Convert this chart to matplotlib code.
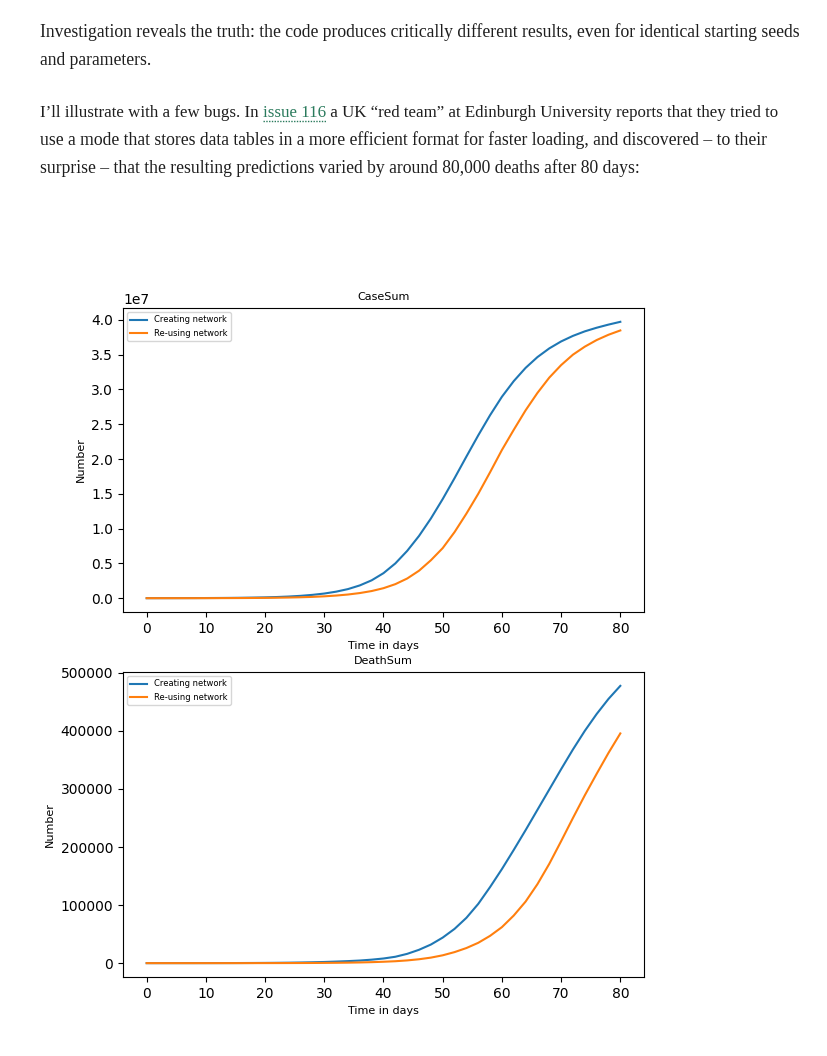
import matplotlib
matplotlib.use('Agg')
import matplotlib.pyplot as plt
import numpy as np

W, H = 828, 1056

# Datos (cada 2 días)
dias = list(range(0, 81, 2))

# CaseSum, en unidades de 1e7
casos_creando = [0.0004, 0.0006, 0.0008, 0.0012, 0.0016, 0.0023, 0.0032, 0.0044, 0.0062, 0.0087,
                 0.012, 0.017, 0.024, 0.034, 0.048, 0.067, 0.094, 0.131, 0.184, 0.257,
                 0.36, 0.50, 0.68, 0.895, 1.145, 1.425, 1.725, 2.035, 2.34, 2.63,
                 2.895, 3.12, 3.31, 3.465, 3.59, 3.69, 3.77, 3.835, 3.887, 3.932, 3.972]
casos_reusando = [0.0003, 0.0003, 0.0004, 0.0005, 0.0006, 0.0009, 0.0012, 0.0017, 0.0024, 0.0034,
                  0.0048, 0.0068, 0.0096, 0.0135, 0.019, 0.027, 0.038, 0.053, 0.074, 0.103,
                  0.144, 0.202, 0.283, 0.395, 0.545, 0.72, 0.95, 1.215, 1.50, 1.81,
                  2.13, 2.42, 2.70, 2.95, 3.17, 3.35, 3.50, 3.615, 3.71, 3.786, 3.848]

# DeathSum, en unidades de 1e5
muertes_creando = [0.0001, 0.0001, 0.0002, 0.0003, 0.0004, 0.0006, 0.0009, 0.0013, 0.0019, 0.0028,
                   0.004, 0.0057, 0.008, 0.011, 0.015, 0.02, 0.027, 0.035, 0.045, 0.06,
                   0.08, 0.11, 0.16, 0.23, 0.32, 0.44, 0.59, 0.78, 1.02, 1.31,
                   1.62, 1.95, 2.29, 2.64, 2.99, 3.34, 3.68, 4.00, 4.29, 4.55, 4.775]
muertes_reusando = [0.0001, 0.0001, 0.0001, 0.0001, 0.0001, 0.0002, 0.0002, 0.0003, 0.0004, 0.0006,
                    0.0008, 0.0011, 0.0016, 0.0022, 0.003, 0.0043, 0.006, 0.0085, 0.012, 0.017,
                    0.024, 0.033, 0.047, 0.067, 0.095, 0.135, 0.19, 0.26, 0.35, 0.47,
                    0.62, 0.82, 1.06, 1.36, 1.71, 2.10, 2.50, 2.89, 3.26, 3.62, 3.956]

etiquetas = ['Creating network', 'Re-using network']

parrafo1 = ['Investigation reveals the truth: the code produces critically different results, even for identical starting seeds',
            'and parameters.']
parrafo2_a = 'I\u2019ll illustrate with a few bugs. In '
enlace = 'issue 116'
parrafo2_b = ' a UK \u201cred team\u201d at Edinburgh University reports that they tried to'
parrafo2_resto = ['use a mode that stores data tables in a more efficient format for faster loading, and discovered \u2013 to their',
                  'surprise \u2013 that the resulting predictions varied by around 80,000 deaths after 80 days:']

fig = plt.figure(figsize=(W / 100, H / 100), dpi=100)
fig.patch.set_facecolor('white')
renderer = fig.canvas.get_renderer()

color_texto = '#1e1e1e'
color_enlace = '#2a7a5c'
fuente = 'Liberation Serif'

# ajustar tamaño de letra para que la primera línea mida ~762 px
prueba = fig.text(0, 0, parrafo1[0], fontsize=12, family=fuente)
ancho = prueba.get_window_extent(renderer).width
prueba.remove()
tam = 12 * 762 / ancho


def poner(x, y, s, color=color_texto, size=None):
    t = fig.text(x / W, 1 - y / H, s, fontsize=size or tam, family=fuente, color=color,
                 ha='left', va='baseline')
    return x + t.get_window_extent(renderer).width


poner(40, 37, parrafo1[0])
poner(40, 65, parrafo1[1])

# la tercera línea es algo más corta en el original
tam3 = tam * 0.955
x = poner(40, 117, parrafo2_a, size=tam3)
x_fin = poner(x, 117, enlace, color=color_enlace, size=tam3)
fig.add_artist(plt.Line2D([x / W, x_fin / W], [1 - 121 / H, 1 - 121 / H],
                          color=color_enlace, linestyle=(0, (1, 1)), linewidth=1))
poner(x_fin, 117, parrafo2_b, size=tam3)
poner(40, 145, parrafo2_resto[0])
poner(40, 173, parrafo2_resto[1])


# Gráficos
def eje(top, bottom):
    return fig.add_axes([123 / W, 1 - bottom / H, (644 - 123) / W, (bottom - top) / H])


ax1 = eje(308, 612)
ax1.plot(dias, np.array(casos_creando) * 1e7, label=etiquetas[0])
ax1.plot(dias, np.array(casos_reusando) * 1e7, label=etiquetas[1])
ax1.set_title('CaseSum', fontsize=8)
ax1.set_xlabel('Time in days', fontsize=8)
ax1.set_ylabel('Number', fontsize=8)
ax1.legend(loc='upper left', fontsize=6)

ax2 = eje(672, 977)
ax2.plot(dias, np.array(muertes_creando) * 1e5, label=etiquetas[0])
ax2.plot(dias, np.array(muertes_reusando) * 1e5, label=etiquetas[1])
ax2.set_title('DeathSum', fontsize=8)
ax2.set_xlabel('Time in days', fontsize=8)
ax2.set_ylabel('Number', fontsize=8)
ax2.legend(loc='upper left', fontsize=6)

plt.savefig('out.png', dpi=100)
